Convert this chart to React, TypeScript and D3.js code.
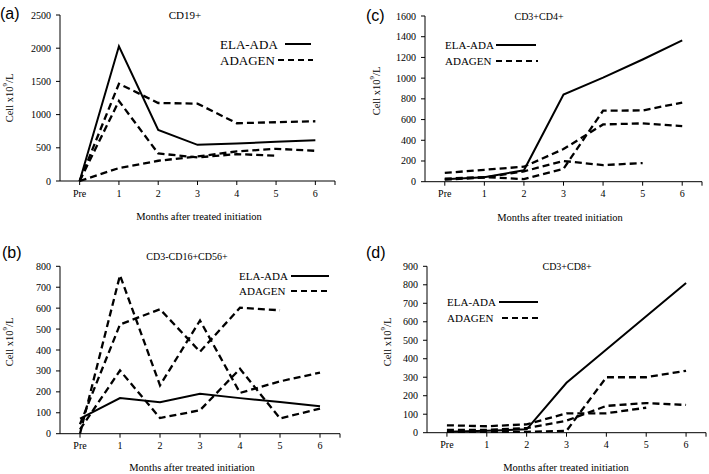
import React from "react";
import * as d3 from "d3";

// ---------- data ----------
const months = ["Pre", "1", "2", "3", "4", "5", "6"];
const legendNames = ["ELA-ADA", "ADAGEN"];
const xAxisTitle = "Months after treated initiation";

// (a) CD19+
const cd19Ela: (number | null)[] = [0, 2030, 770, 545, 565, 590, 615];
const cd19Adagen1: (number | null)[] = [0, 1465, 1175, 1165, 870, 885, 900];
const cd19Adagen2: (number | null)[] = [0, 1205, 415, 355, 405, 380, null];
const cd19Adagen3: (number | null)[] = [0, 195, 305, 370, 445, 485, 455];

// (b) CD3-CD16+CD56+
const nkEla: (number | null)[] = [72, 170, 150, 191, 170, 151, 131];
const nkAdagen1: (number | null)[] = [0, 757, 231, 541, 195, 250, 292];
const nkAdagen2: (number | null)[] = [45, 522, 595, 392, 602, 590, null];
const nkAdagen3: (number | null)[] = [20, 302, 75, 112, 310, 73, 120];

// (c) CD3+CD4+
const cd4Ela: (number | null)[] = [23, 43, 110, 842, 1005, 1180, 1365];
const cd4Adagen1: (number | null)[] = [85, 115, 145, 315, 553, 563, 537];
const cd4Adagen2: (number | null)[] = [30, 45, 25, 125, 686, 688, 764];
const cd4Adagen3: (number | null)[] = [20, 40, 100, 200, 160, 180, null];

// (d) CD3+CD8+
const cd8Ela: (number | null)[] = [5, 10, 18, 270, 450, 630, 810];
const cd8Adagen1: (number | null)[] = [5, 5, 5, 10, 300, 300, 335];
const cd8Adagen2: (number | null)[] = [40, 35, 45, 105, 105, 135, null];
const cd8Adagen3: (number | null)[] = [15, 15, 25, 65, 145, 160, 150];

// ---------- layout ----------
type Layout = {
  letter: string;
  letterX: number;
  letterY: number;
  title: string;
  titleX: number;
  titleY: number;
  titleSize: number;
  x0: number;
  x1: number;
  yb: number;
  yt: number;
  yMax: number;
  yStep: number;
  yLabelX: number;
  yLabelY: number;
  xLabelX: number;
  xLabelY: number;
  legX: number;
  legY1: number;
  legY2: number;
  legSize: number;
  leg1: [number, number];
  leg2: [number, number];
};

const serif = "Liberation Serif";
const sans = "Liberation Sans";

function Panel({ L, ela, adagen }: { L: Layout; ela: (number | null)[]; adagen: (number | null)[][] }) {
  const x = d3.scalePoint<string>().domain(months).range([L.x0, L.x1]).padding(0.5);
  const y = d3.scaleLinear().domain([0, L.yMax]).range([L.yb, L.yt]);
  const ticks = d3.range(0, L.yMax + 1, L.yStep);
  const line = d3
    .line<number | null>()
    .defined((d) => d != null)
    .x((_, i) => x(months[i]) as number)
    .y((d) => y(d as number));
  const xTicks = [...months.map((m) => x(m) as number), L.x1];
  const st = (size: number) => ({ fontFamily: serif, fontSize: size });
  return (
    <g>
      <text x={L.letterX} y={L.letterY} style={{ fontFamily: sans, fontSize: 16 }} dominantBaseline="central">
        {L.letter}
      </text>
      <text x={L.titleX} y={L.titleY} style={st(L.titleSize)} textAnchor="middle" dominantBaseline="central">
        {L.title}
      </text>
      {/* axes */}
      <line x1={L.x0} x2={L.x0} y1={L.yb} y2={L.yt} stroke="#000" strokeWidth={1} />
      <line x1={L.x0} x2={L.x1} y1={L.yb} y2={L.yb} stroke="#000" strokeWidth={1} />
      {ticks.map((t) => (
        <g key={"y" + t}>
          <line x1={L.x0 - 4} x2={L.x0} y1={y(t)} y2={y(t)} stroke="#000" />
          <text x={L.x0 - 9} y={y(t)} style={st(10)} textAnchor="end" dominantBaseline="central">
            {t}
          </text>
        </g>
      ))}
      {xTicks.map((t, i) => (
        <line key={"xt" + i} x1={t} x2={t} y1={L.yb} y2={L.yb + 4} stroke="#000" />
      ))}
      {months.map((m) => (
        <text key={"xl" + m} x={x(m)} y={L.yb + 12} style={st(10)} textAnchor="middle" dominantBaseline="central">
          {m}
        </text>
      ))}
      <text x={L.xLabelX} y={L.xLabelY} style={st(10.5)} textAnchor="middle" dominantBaseline="central">
        {xAxisTitle}
      </text>
      <text
        transform={`translate(${L.yLabelX},${L.yLabelY}) rotate(-90)`}
        style={st(10.5)}
        textAnchor="middle"
        dominantBaseline="central"
      >
        <tspan>Cell x10</tspan>
        <tspan dy={-4} style={{ fontSize: 7 }}>
          9
        </tspan>
        <tspan dy={4}>/L</tspan>
      </text>
      {/* series */}
      {adagen.map((s, i) => (
        <path key={"ad" + i} d={line(s) || ""} fill="none" stroke="#000" strokeWidth={2.3} strokeDasharray="7,4" />
      ))}
      <path d={line(ela) || ""} fill="none" stroke="#000" strokeWidth={2} />
      {/* legend */}
      <text x={L.legX} y={L.legY1} style={st(L.legSize)} dominantBaseline="central">
        {legendNames[0]}
      </text>
      <line x1={L.leg1[0]} x2={L.leg1[1]} y1={L.legY1} y2={L.legY1} stroke="#000" strokeWidth={2} />
      <text x={L.legX} y={L.legY2} style={st(L.legSize)} dominantBaseline="central">
        {legendNames[1]}
      </text>
      <line x1={L.leg2[0]} x2={L.leg2[1]} y1={L.legY2} y2={L.legY2} stroke="#000" strokeWidth={2} strokeDasharray="6,4" />
    </g>
  );
}

const layoutA: Layout = {
  letter: "(a)", letterX: 0, letterY: 13,
  title: "CD19+", titleX: 185, titleY: 15, titleSize: 11,
  x0: 60, x1: 335, yb: 181, yt: 15, yMax: 2500, yStep: 500,
  yLabelX: 9, yLabelY: 98, xLabelX: 199, xLabelY: 216,
  legX: 220, legY1: 44, legY2: 60, legSize: 13, leg1: [285, 311], leg2: [278, 313],
};
const layoutB: Layout = {
  letter: "(b)", letterX: 2, letterY: 252,
  title: "CD3-CD16+CD56+", titleX: 187, titleY: 256, titleSize: 10,
  x0: 60, x1: 340, yb: 433.7, yt: 266.3, yMax: 800, yStep: 100,
  yLabelX: 9, yLabelY: 342, xLabelX: 192, xLabelY: 467,
  legX: 239, legY1: 276, legY2: 291, legSize: 11, leg1: [291, 329], leg2: [291, 331],
};
const layoutC: Layout = {
  letter: "(c)", letterX: 366, letterY: 15,
  title: "CD3+CD4+", titleX: 539, titleY: 16, titleSize: 10,
  x0: 425, x1: 702, yb: 181.7, yt: 16, yMax: 1600, yStep: 200,
  yLabelX: 376, yLabelY: 91, xLabelX: 560, xLabelY: 217,
  legX: 445, legY1: 45, legY2: 61, legSize: 11, leg1: [496, 536], leg2: [496, 538],
};
const layoutD: Layout = {
  letter: "(d)", letterX: 366, letterY: 252,
  title: "CD3+CD8+", titleX: 567, titleY: 266, titleSize: 10,
  x0: 427, x1: 706, yb: 432.7, yt: 266.3, yMax: 900, yStep: 100,
  yLabelX: 387, yLabelY: 342, xLabelX: 566, xLabelY: 467,
  legX: 447, legY1: 302, legY2: 318, legSize: 11, leg1: [499, 538], leg2: [502, 541],
};

export default function App() {
  return (
    <svg width={709} height={474} style={{ position: "absolute", left: 0, top: 0, background: "#fff" }}>
      <rect width={709} height={474} fill="#fff" />
      <Panel L={layoutA} ela={cd19Ela} adagen={[cd19Adagen1, cd19Adagen2, cd19Adagen3]} />
      <Panel L={layoutB} ela={nkEla} adagen={[nkAdagen1, nkAdagen2, nkAdagen3]} />
      <Panel L={layoutC} ela={cd4Ela} adagen={[cd4Adagen1, cd4Adagen2, cd4Adagen3]} />
      <Panel L={layoutD} ela={cd8Ela} adagen={[cd8Adagen1, cd8Adagen2, cd8Adagen3]} />
    </svg>
  );
}
